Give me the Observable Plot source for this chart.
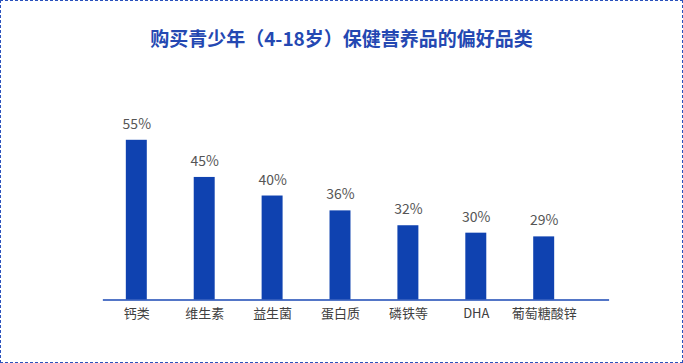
<!DOCTYPE html>
<html>
<head>
<meta charset="utf-8">
<script src="https://cdn.jsdelivr.net/npm/d3@7"></script>
<script src="https://cdn.jsdelivr.net/npm/@observablehq/plot@0.6"></script>
<style>
  html, body { margin: 0; padding: 0; background: #fff; }
  #wrap {
    position: relative; width: 683px; height: 363px; box-sizing: border-box;
    border: 1px dashed #2b52bd; overflow: hidden;
    font-family: "Noto Sans CJK SC", "Noto Sans", sans-serif;
  }
  #title {
    position: absolute; left: 0; right: 0; top: 23px; text-align: center;
    font-size: 19px; font-weight: bold; color: #2448b2; line-height: 27px;
  }
  #chart { position: absolute; left: -1px; top: -1px; }
</style>
</head>
<body>
<div id="wrap">
  <div id="title">购买青少年（4-18岁）保健营养品的偏好品类</div>
  <div id="chart"></div>
</div>
<script>
const categories = ["钙类", "维生素", "益生菌", "蛋白质", "磷铁等", "DHA", "葡萄糖酸锌"];
const values = [55, 45, 40, 36, 32, 30, 29];
const valueLabels = ["55%", "45%", "40%", "36%", "32%", "30%", "29%"];

const data = categories.map((c, i) => ({cat: c, v: values[i], label: valueLabels[i]}));

const chart = Plot.plot({
  width: 683,
  height: 363,
  marginLeft: 103,
  marginRight: 73,
  marginTop: 60,
  marginBottom: 63,
  style: {fontFamily: '"Noto Sans CJK SC", "Noto Sans", sans-serif', background: "transparent"},
  x: {domain: categories, range: [103, 579], paddingInner: 0.69, paddingOuter: 0.345, label: null},
  y: {domain: [12, 55], range: [300, 140], clamp: true, axis: null},
  marks: [
    Plot.barY(data, {x: "cat", y: "v", fill: "#0f42b0"}),
    Plot.text(data, {x: "cat", y: "v", text: "label", dy: -16, fontSize: 14, fill: "#555555"}),
    Plot.ruleY([12], {stroke: "#1a49b5", strokeWidth: 1.5}),
    Plot.axisX({tickSize: 0, tickPadding: 9, fontSize: 13, color: "#404040", label: null})
  ]
});
document.getElementById("chart").appendChild(chart);
</script>
</body>
</html>
